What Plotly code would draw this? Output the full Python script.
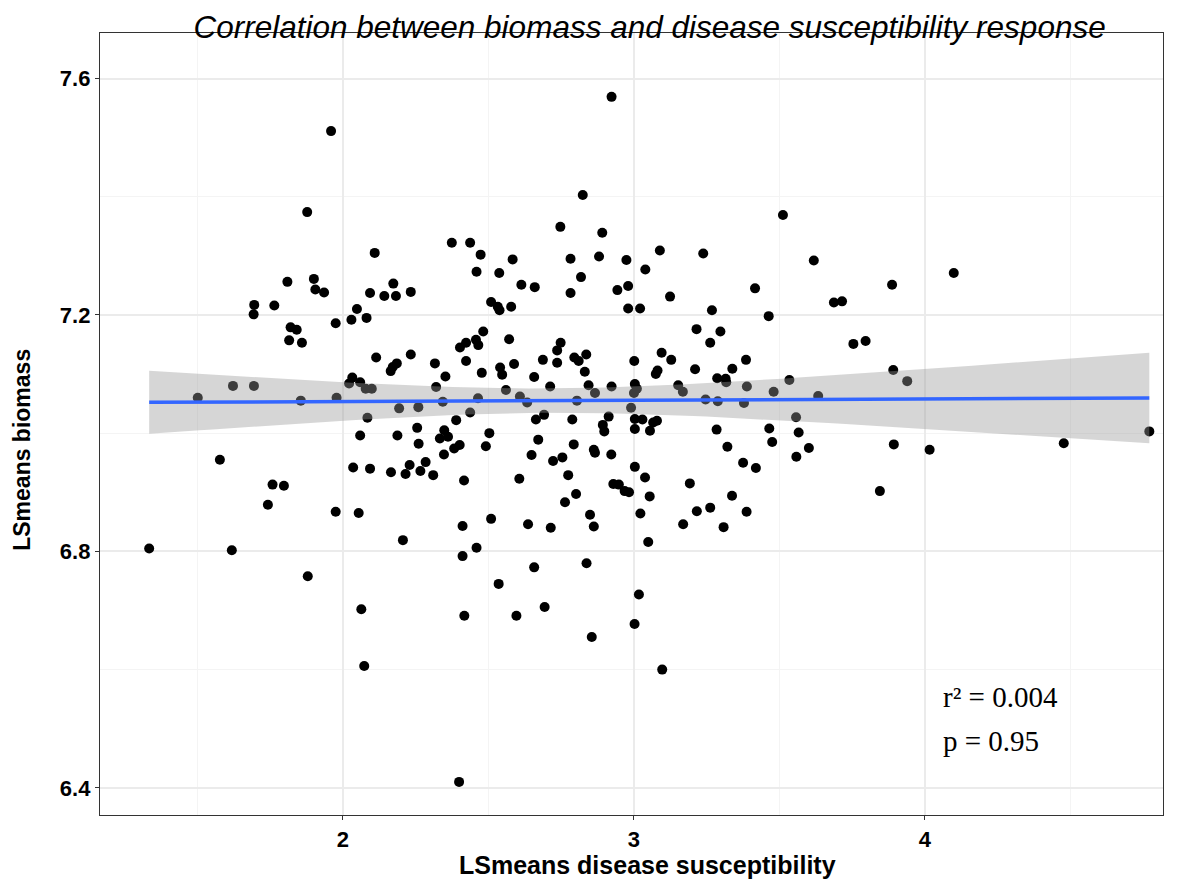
import numpy as np
import plotly.graph_objects as go

# LSmeans disease susceptibility (x) and LSmeans biomass (y)
susceptibility = [
    1.334, 1.501, 1.577, 1.622, 1.618, 1.695, 1.693, 1.694, 1.764, 1.742,
    1.758, 1.797, 1.809, 1.820, 1.841, 1.815, 1.859, 1.855, 1.877, 1.879,
    1.900, 1.905, 1.935, 1.959, 1.975, 1.978, 1.975, 2.029, 2.048, 2.054,
    2.032, 2.021, 2.059, 2.078, 2.099, 2.081, 2.084, 2.059, 2.035, 2.093,
    2.063, 2.073, 2.093, 2.109, 2.142, 2.182, 2.233, 2.173, 2.114, 2.233,
    2.185, 2.171, 2.164, 2.193, 2.259, 2.255, 2.187, 2.260, 2.165, 2.229,
    2.215, 2.266, 2.284, 2.310, 2.206, 2.316, 2.320, 2.343, 2.352, 2.348,
    2.333, 2.361, 2.347, 2.382, 2.401, 2.389, 2.374, 2.437, 2.473, 2.459,
    2.482, 2.457, 2.465, 2.423, 2.402, 2.423, 2.477, 2.464, 2.437, 2.416,
    2.411, 2.459, 2.411, 2.417, 2.399, 2.509, 2.532, 2.538, 2.578, 2.571,
    2.540, 2.547, 2.588, 2.560, 2.608, 2.633, 2.503, 2.491, 2.509, 2.535,
    2.583, 2.537, 2.613, 2.659, 2.606, 2.636, 2.596, 2.657, 2.687, 2.663,
    2.691, 2.671, 2.648, 2.722, 2.754, 2.712, 2.714, 2.657, 2.693, 2.747,
    2.782, 2.818, 2.782, 2.824, 2.748, 2.736, 2.736, 2.795, 2.810, 2.836,
    2.831, 2.844, 2.866, 2.804, 2.788, 2.793, 2.774, 2.801, 2.763, 2.849,
    2.862, 2.837, 2.855, 2.862, 2.866, 2.891, 2.880, 2.923, 2.943, 2.980,
    2.974, 2.980, 3.021, 2.923, 2.913, 2.893, 2.898, 2.922, 2.929, 2.948,
    2.968, 2.983, 3.001, 3.003, 3.010, 3.000, 2.990, 3.003, 3.003, 3.003,
    3.002, 3.017, 3.097, 3.039, 3.089, 3.124, 3.238, 3.268, 3.215, 3.297,
    3.262, 3.095, 3.128, 3.081, 3.075, 3.210, 3.152, 3.168, 3.246, 3.288,
    3.286, 3.315, 3.317, 3.029, 3.066, 3.079, 3.055, 3.284, 3.321, 3.038,
    3.192, 3.054, 3.337, 3.262, 3.216, 3.022, 3.169, 3.308, 3.049, 3.338,
    3.385, 3.388, 3.378, 3.375, 3.387, 3.419, 3.416, 3.463, 3.480, 3.465,
    3.475, 3.512, 3.534, 3.557, 3.566, 3.558, 3.601, 3.618, 3.633, 3.687,
    3.715, 3.754, 3.796, 3.845, 3.887, 3.891, 3.893, 3.939, 4.016, 4.099,
    4.477, 4.771,
]
biomass = [
    6.805, 7.060, 6.955, 7.080, 6.802, 7.217, 7.201, 7.080, 7.216, 6.879,
    6.913, 6.911, 7.256, 7.179, 7.175, 7.157, 7.153, 7.055, 7.374, 6.758,
    7.261, 7.243, 7.238, 7.511, 7.186, 7.060, 6.867, 7.192, 7.210, 6.865,
    7.094, 7.084, 7.086, 7.075, 7.075, 7.195, 7.026, 6.996, 6.942, 6.940,
    6.702, 6.606, 7.237, 7.305, 7.232, 7.232, 7.239, 7.253, 7.128, 7.133,
    7.118, 7.112, 7.105, 7.042, 7.044, 7.009, 6.996, 6.982, 6.934, 6.946,
    6.931, 6.936, 6.951, 6.929, 6.819, 7.118, 7.078, 7.053, 7.096, 7.005,
    6.991, 6.994, 6.964, 6.974, 6.980, 7.022, 7.322, 7.322, 7.302, 7.273,
    7.172, 7.158, 7.149, 7.153, 7.145, 7.122, 7.102, 7.059, 7.035, 6.920,
    6.843, 6.806, 6.792, 6.691, 6.410, 7.222, 7.214, 7.208, 7.214, 7.159,
    7.111, 7.099, 7.117, 7.073, 7.062, 7.052, 7.000, 6.978, 6.855, 6.745,
    7.294, 7.271, 7.251, 7.247, 6.923, 6.846, 6.691, 7.095, 7.124, 7.023,
    7.031, 6.989, 6.963, 6.953, 6.959, 7.079, 6.840, 6.773, 6.706, 7.349,
    7.295, 7.264, 7.237, 7.403, 7.153, 7.140, 7.119, 7.128, 7.122, 7.133,
    7.104, 7.081, 7.068, 7.055, 7.023, 6.981, 6.929, 6.897, 6.883, 6.862,
    6.842, 6.780, 6.655, 6.972, 6.967, 7.339, 7.299, 7.569, 7.242, 7.249,
    7.293, 7.211, 7.211, 7.079, 7.028, 7.014, 7.003, 6.964, 6.914, 6.913,
    6.902, 6.900, 7.122, 7.083, 7.075, 7.068, 7.043, 7.024, 7.007, 6.943,
    6.677, 6.727, 6.600, 7.277, 7.309, 7.231, 7.304, 7.208, 7.176, 7.172,
    7.153, 7.136, 7.124, 7.106, 7.100, 7.108, 7.081, 7.070, 7.057, 7.054,
    7.093, 7.092, 7.086, 7.023, 7.018, 7.021, 7.004, 7.006, 6.977, 6.925,
    6.915, 6.893, 6.894, 6.874, 6.868, 6.864, 6.846, 6.841, 6.816, 7.109,
    7.124, 7.079, 7.051, 6.950, 6.867, 6.941, 7.245, 7.198, 7.070, 7.008,
    6.985, 7.369, 7.090, 7.027, 7.001, 6.960, 6.975, 7.292, 7.063, 7.221,
    7.223, 7.151, 7.156, 6.902, 7.251, 7.107, 6.981, 7.088, 6.972, 7.271,
    6.983, 7.003,
]
stats_lines = ["r\u00b2 = 0.004", "p = 0.95"]

x = np.array(susceptibility)
y = np.array(biomass)

# linear fit with 95% confidence band (like geom_smooth(method = "lm"))
n = len(x)
slope, intercept = np.polyfit(x, y, 1)
resid = y - (slope * x + intercept)
s = np.sqrt(np.sum(resid ** 2) / (n - 2))
xs = np.linspace(x.min(), x.max(), 80)
ys = slope * xs + intercept
se = s * np.sqrt(1 / n + (xs - x.mean()) ** 2 / np.sum((x - x.mean()) ** 2))
t = 1.9695
upper = ys + t * se
lower = ys - t * se

fig = go.Figure()

fig.add_trace(go.Scatter(
    x=x, y=y, mode="markers",
    marker=dict(color="black", size=10),
    showlegend=False, hoverinfo="x+y",
))

fig.add_trace(go.Scatter(
    x=np.concatenate([xs, xs[::-1]]),
    y=np.concatenate([upper, lower[::-1]]),
    fill="toself", fillcolor="rgba(153,153,153,0.4)",
    line=dict(width=0), mode="lines",
    showlegend=False, hoverinfo="skip",
))

fig.add_trace(go.Scatter(
    x=xs, y=ys, mode="lines",
    line=dict(color="#3366FF", width=3.5),
    showlegend=False, hoverinfo="skip",
))

for i, txt in enumerate(stats_lines):
    fig.add_annotation(
        x=4.055, y=6.554 - i * 0.075, text=txt, showarrow=False,
        xanchor="left", yanchor="middle",
        font=dict(family="Liberation Serif", size=29, color="black"),
    )

# axis titles
title_font = dict(family="Liberation Sans", color="black", weight="bold")
fig.add_annotation(
    text="LSmeans disease susceptibility", xref="paper", yref="paper",
    x=0.5155, y=-0.064, xanchor="center", yanchor="middle", showarrow=False,
    font=dict(size=25, **title_font),
)
fig.add_annotation(
    text="LSmeans biomass", xref="paper", yref="paper", textangle=-90,
    x=-0.0734, y=0.467, xanchor="center", yanchor="middle", showarrow=False,
    font=dict(size=23, **title_font),
)

axis_common = dict(
    showline=True, linecolor="#333333", linewidth=1.3, mirror=True,
    gridcolor="#EBEBEB", gridwidth=1.6,
    ticks="outside", ticklen=4, tickcolor="#333333", tickwidth=1.3,
    tickfont=dict(family="Liberation Sans", size=22, color="black", weight="bold"),
    zeroline=False,
)

fig.update_xaxes(
    range=[1.165, 4.818], tickvals=[2, 3, 4], ticktext=["2", "3", "4"],
    minor=dict(tickvals=[1.5, 2.5, 3.5, 4.5], showgrid=True, gridcolor="#F4F4F4", gridwidth=1, ticks=""),
    **axis_common,
)
fig.update_yaxes(
    range=[6.354, 7.677], tickvals=[6.4, 6.8, 7.2, 7.6], ticktext=["6.4", "6.8", "7.2", "7.6"],
    minor=dict(tickvals=[6.6, 7.0, 7.4], showgrid=True, gridcolor="#F4F4F4", gridwidth=1, ticks=""),
    **axis_common,
)

# the page body adds an 8px margin, so the figure is 8px smaller and margins shifted
fig.update_layout(
    width=1184, height=879,
    paper_bgcolor="white", plot_bgcolor="white",
    margin=dict(l=92, r=29, t=25, b=72),
    title=dict(
        text="<i>Correlation between biomass and disease susceptibility response</i>",
        x=0.517, xref="paper", xanchor="center",
        y=1 - 19 / 879, yref="container", yanchor="middle",
        font=dict(family="Liberation Sans", size=31.5, color="black"),
    ),
)

fig.write_html("out.html")
